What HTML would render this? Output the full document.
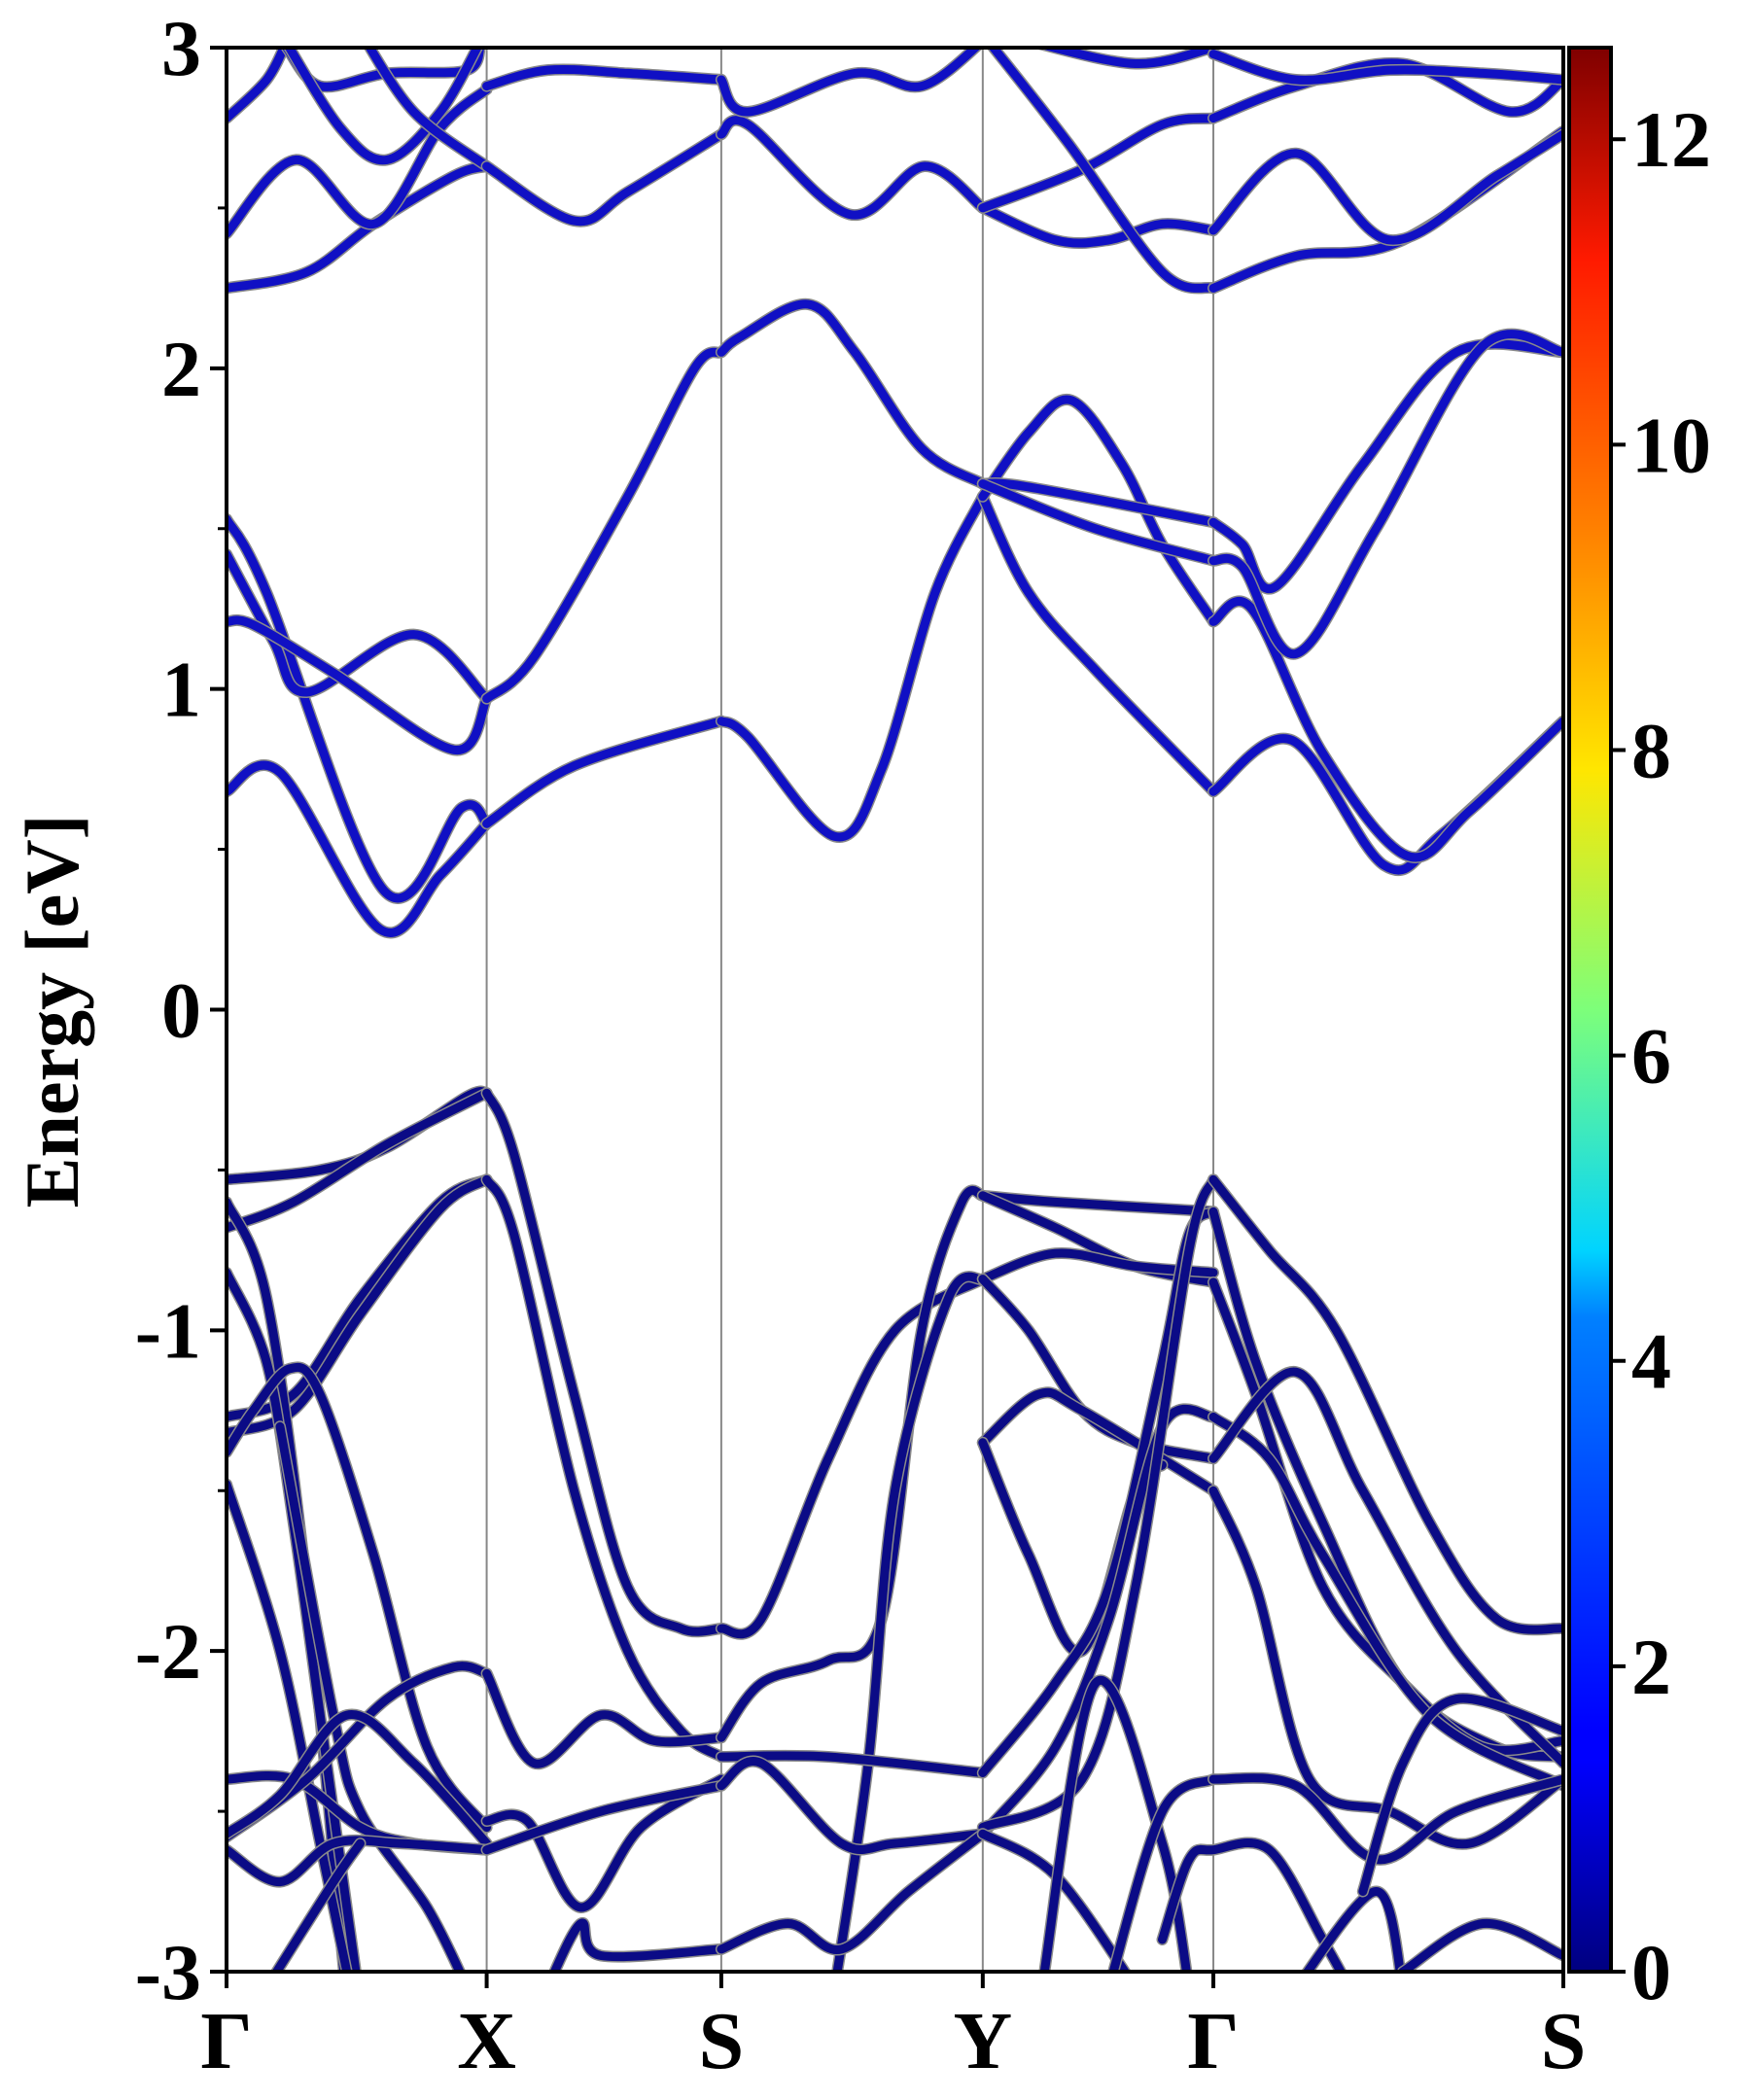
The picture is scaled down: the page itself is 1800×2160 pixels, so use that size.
<!DOCTYPE html>
<html><head><meta charset="utf-8"><style>
html,body{margin:0;padding:0;background:#fff;}
svg{display:block;}
text{font-family:"Liberation Serif","Times New Roman",serif;font-weight:bold;fill:#000;}
</style></head><body>
<svg id="chart" width="1800" height="2160" viewBox="0 0 1800 2160" xmlns="http://www.w3.org/2000/svg" font-family="Liberation Serif, Times New Roman, serif" font-weight="bold">
<defs>
<clipPath id="plotclip"><rect x="233" y="49" width="1375" height="1979"/></clipPath>
<linearGradient id="jet" x1="0" y1="1" x2="0" y2="0">
<stop offset="0" stop-color="#00007f"/><stop offset="0.11" stop-color="#0000ff"/><stop offset="0.125" stop-color="#0000ff"/>
<stop offset="0.34" stop-color="#0080ff"/><stop offset="0.375" stop-color="#00d4ff"/><stop offset="0.5" stop-color="#7dff7a"/>
<stop offset="0.625" stop-color="#ffe600"/><stop offset="0.75" stop-color="#ff8000"/><stop offset="0.89" stop-color="#ff1a00"/><stop offset="1" stop-color="#7f0000"/>
</linearGradient>
</defs>
<g id="grid"></g>
<g id="bands" clip-path="url(#plotclip)"></g>
<rect x="233" y="49" width="1375" height="1979" fill="none" stroke="#000" stroke-width="4"/>
<g id="yticks"></g>
<g id="xticks"></g>
<text font-family="Liberation Serif, serif" transform="translate(80,1040) rotate(-90)" text-anchor="middle" font-size="78">Energy [eV]</text>
<rect x="1614" y="49" width="43" height="1979" fill="url(#jet)" stroke="#000" stroke-width="4"/>
<g id="cticks"></g>
</svg>
<script>
const kTicks = [0, 0.1946, 0.3701, 0.5657, 0.7382, 1.0];
const kLabels = ["Γ", "X", "S", "Y", "Γ", "S"];
const yTickValues = [-3, -2, -1, 0, 1, 2, 3];
const cbarTicks = [0, 2, 4, 6, 8, 10, 12];
const cbarMax = 12.6;
const conductionBands = [
 [[0,0.68],[0.04,0.74],[0.115,0.25],[0.16,0.42],[0.1946,0.58]],
 [[0,1.53],[0.03,1.3],[0.118,0.37],[0.176,0.63],[0.1946,0.58]],
 [[0,1.42],[0.035,1.15],[0.06,0.99],[0.14,1.17],[0.1946,0.97]],
 [[0,1.21],[0.02,1.2],[0.08,1.05],[0.17,0.81],[0.1946,0.97]],
 [[0.1946,0.58],[0.26,0.76],[0.3701,0.9]],
 [[0.1946,0.97],[0.23,1.1],[0.3,1.6],[0.35,2.0],[0.3701,2.05]],
 [[0.3701,0.9],[0.39,0.85],[0.455,0.54],[0.49,0.75],[0.53,1.3],[0.5657,1.6]],
 [[0.3701,2.05],[0.385,2.1],[0.435,2.2],[0.47,2.05],[0.52,1.75],[0.5657,1.64]],
 [[0.5657,1.6],[0.6,1.3],[0.652,1.05],[0.7382,0.68]],
 [[0.5657,1.6],[0.6,1.8],[0.632,1.9],[0.67,1.7],[0.7,1.45],[0.7382,1.21]],
 [[0.5657,1.64],[0.6,1.63],[0.7382,1.52]],
 [[0.5657,1.64],[0.65,1.5],[0.7382,1.4]],
 [[0.7382,0.68],[0.797,0.84],[0.866,0.45],[0.91,0.55],[1,0.9]],
 [[0.7382,1.21],[0.767,1.25],[0.82,0.8],[0.883,0.48],[0.93,0.62],[1,0.9]],
 [[0.7382,1.52],[0.76,1.45],[0.785,1.32],[0.85,1.7],[0.92,2.05],[1,2.05]],
 [[0.7382,1.4],[0.76,1.38],[0.8,1.11],[0.86,1.5],[0.94,2.07],[1,2.05]],
 [[0,2.25],[0.06,2.3],[0.11,2.45],[0.17,2.6],[0.1946,2.63]],
 [[0,2.42],[0.052,2.65],[0.11,2.45],[0.16,2.75],[0.1946,2.87]],
 [[0,2.78],[0.03,2.9],[0.045,3.02]],
 [[0.045,3.0],[0.07,2.88],[0.12,2.92],[0.18,2.93],[0.19,3.02]],
 [[0.04,3.05],[0.085,2.75],[0.12,2.65],[0.16,2.8],[0.19,3.02]],
 [[0.1,3.05],[0.14,2.8],[0.1946,2.63]],
 [[0.1946,2.63],[0.26,2.46],[0.3,2.55],[0.3701,2.73]],
 [[0.1946,2.88],[0.24,2.93],[0.3,2.92],[0.3701,2.9]],
 [[0.3701,2.73],[0.39,2.76],[0.466,2.48],[0.522,2.63],[0.5657,2.5]],
 [[0.3701,2.9],[0.39,2.8],[0.47,2.92],[0.52,2.88],[0.5657,3.02]],
 [[0.5657,2.5],[0.62,2.4],[0.66,2.4],[0.7,2.45],[0.7382,2.43]],
 [[0.5657,2.5],[0.64,2.62],[0.7,2.76],[0.7382,2.78]],
 [[0.57,3.02],[0.63,2.7],[0.7,2.3],[0.7382,2.25]],
 [[0.6,3.02],[0.68,2.95],[0.7382,3.0]],
 [[0.7382,2.25],[0.8,2.35],[0.88,2.4],[1,2.74]],
 [[0.7382,2.43],[0.8,2.67],[0.87,2.4],[0.95,2.6],[1,2.73]],
 [[0.7382,2.78],[0.8,2.88],[0.88,2.95],[0.96,2.8],[1,2.9]],
 [[0.7382,2.98],[0.8,2.9],[0.87,2.93],[0.94,2.92],[1,2.9]]
];
const valenceBands = [
 [[0,-0.53],[0.07,-0.5],[0.12,-0.43],[0.18,-0.27],[0.1946,-0.26]],
 [[0,-0.68],[0.05,-0.6],[0.12,-0.42],[0.1946,-0.26]],
 [[0,-1.27],[0.05,-1.2],[0.1,-0.9],[0.16,-0.6],[0.1946,-0.53]],
 [[0,-1.32],[0.05,-1.25],[0.1,-0.95],[0.16,-0.62],[0.1946,-0.53]],
 [[0,-0.6],[0.03,-0.9],[0.06,-1.8],[0.09,-3.1]],
 [[0,-0.82],[0.03,-1.1],[0.05,-1.6],[0.07,-2.2],[0.1,-3.1]],
 [[0,-1.48],[0.04,-2.0],[0.07,-2.6],[0.095,-3.1]],
 [[0,-1.38],[0.02,-1.25],[0.047,-1.12],[0.07,-1.2],[0.11,-1.7],[0.15,-2.3],[0.1946,-2.55]],
 [[0.04,-1.3],[0.08,-2.2],[0.1,-2.5],[0.15,-2.8],[0.18,-3.05]],
 [[0,-2.4],[0.05,-2.4],[0.1,-2.55],[0.14,-2.6],[0.1946,-2.62]],
 [[0,-2.58],[0.06,-2.4],[0.12,-2.15],[0.17,-2.05],[0.1946,-2.07]],
 [[0,-2.57],[0.04,-2.45],[0.09,-2.2],[0.14,-2.35],[0.1946,-2.6]],
 [[0,-2.62],[0.04,-2.72],[0.08,-2.6],[0.13,-2.6],[0.1946,-2.62]],
 [[0.03,-3.05],[0.08,-2.72],[0.1,-2.6]],
 [[0.1946,-0.26],[0.215,-0.45],[0.26,-1.2],[0.3,-1.8],[0.34,-1.93],[0.3701,-1.93]],
 [[0.1946,-0.53],[0.215,-0.7],[0.26,-1.5],[0.3,-2.0],[0.34,-2.25],[0.3701,-2.33]],
 [[0.1946,-2.07],[0.23,-2.35],[0.28,-2.2],[0.32,-2.28],[0.3701,-2.27]],
 [[0.1946,-2.53],[0.225,-2.53],[0.265,-2.8],[0.31,-2.55],[0.3701,-2.4]],
 [[0.1946,-2.62],[0.28,-2.5],[0.3701,-2.42]],
 [[0.24,-3.05],[0.265,-2.85],[0.28,-2.95],[0.3701,-2.93]],
 [[0.3701,-1.93],[0.4,-1.9],[0.45,-1.4],[0.5,-1.0],[0.5657,-0.84]],
 [[0.3701,-2.27],[0.4,-2.1],[0.45,-2.03],[0.49,-1.9],[0.52,-1.0],[0.55,-0.6],[0.5657,-0.58]],
 [[0.455,-3.05],[0.48,-2.35],[0.5,-1.5],[0.54,-0.9],[0.5657,-0.84]],
 [[0.3701,-2.33],[0.45,-2.33],[0.5657,-2.38]],
 [[0.3701,-2.42],[0.4,-2.35],[0.46,-2.6],[0.5,-2.6],[0.5657,-2.57]],
 [[0.3701,-2.93],[0.42,-2.85],[0.46,-2.93],[0.51,-2.75],[0.5657,-2.57]],
 [[0.5657,-0.58],[0.62,-0.6],[0.7382,-0.63]],
 [[0.5657,-0.58],[0.62,-0.68],[0.68,-0.8],[0.7382,-0.85]],
 [[0.5657,-0.84],[0.62,-0.76],[0.68,-0.8],[0.7382,-0.82]],
 [[0.5657,-0.84],[0.6,-1.0],[0.64,-1.25],[0.68,-1.35],[0.7382,-1.4]],
 [[0.5657,-1.35],[0.607,-1.2],[0.64,-1.25],[0.7382,-1.5]],
 [[0.5657,-1.35],[0.6,-1.7],[0.64,-2.0],[0.68,-1.5],[0.7,-1.42]],
 [[0.5657,-2.38],[0.62,-2.1],[0.66,-1.8],[0.7,-1.1],[0.72,-0.7],[0.7382,-0.63]],
 [[0.5657,-2.57],[0.62,-2.3],[0.66,-1.9],[0.7,-1.3],[0.7382,-1.27]],
 [[0.5657,-2.55],[0.64,-2.4],[0.68,-1.8],[0.72,-0.75],[0.7382,-0.53]],
 [[0.5657,-2.57],[0.62,-2.7],[0.68,-3.05]],
 [[0.61,-3.05],[0.65,-2.1],[0.7,-2.6],[0.72,-3.05]],
 [[0.66,-3.05],[0.7,-2.5],[0.7382,-2.4]],
 [[0.7382,-0.53],[0.78,-0.75],[0.83,-1.0],[0.9,-1.6],[0.95,-1.9],[1,-1.93]],
 [[0.7382,-0.63],[0.77,-1.1],[0.82,-1.6],[0.88,-2.1],[0.95,-2.3],[1,-2.33]],
 [[0.7382,-0.85],[0.77,-1.2],[0.82,-1.8],[0.88,-2.1],[0.94,-2.3],[1,-2.28]],
 [[0.7382,-1.27],[0.78,-1.4],[0.82,-1.7],[0.9,-2.2],[1,-2.42]],
 [[0.7382,-1.4],[0.8,-1.13],[0.85,-1.5],[0.92,-2.0],[1,-2.35]],
 [[0.7382,-1.5],[0.77,-1.8],[0.81,-2.4],[0.87,-2.5],[0.93,-2.6],[1,-2.4]],
 [[0.7382,-2.4],[0.8,-2.42],[0.86,-2.65],[0.92,-2.5],[1,-2.4]],
 [[0.7,-2.9],[0.72,-2.65],[0.7382,-2.62],[0.78,-2.62],[0.82,-2.9],[0.84,-3.05]],
 [[0.8,-3.05],[0.86,-2.75],[0.88,-3.05]],
 [[0.88,-3.0],[0.94,-2.85],[1,-2.95]],
 [[0.85,-2.75],[0.88,-2.35],[0.92,-2.15],[1,-2.25]]
];

const X0=233, X1=1608, Y0=49, Y1=2028, EMIN=-3, EMAX=3;
function xs(k){return X0+(X1-X0)*k;}
function ys(e){return Y1-(Y1-Y0)*(e-EMIN)/(EMAX-EMIN);}
function cys(v){return Y1-(Y1-Y0)*v/cbarMax;}
const NS='http://www.w3.org/2000/svg';
function mk(tag,attrs,parent){const el=document.createElementNS(NS,tag);for(const a in attrs)el.setAttribute(a,attrs[a]);parent.appendChild(el);return el;}
function pathFor(pts){
  const p=pts.map(q=>[xs(q[0]),ys(q[1])]);
  let d='M'+p[0][0].toFixed(1)+','+p[0][1].toFixed(1);
  for(let i=0;i<p.length-1;i++){
    const p0=p[i-1]||p[i],p1=p[i],p2=p[i+1],p3=p[i+2]||p2;
    const c1=[p1[0]+(p2[0]-p0[0])/6,p1[1]+(p2[1]-p0[1])/6];
    const c2=[p2[0]-(p3[0]-p1[0])/6,p2[1]-(p3[1]-p1[1])/6];
    d+=' C'+c1[0].toFixed(1)+','+c1[1].toFixed(1)+' '+c2[0].toFixed(1)+','+c2[1].toFixed(1)+' '+p2[0].toFixed(1)+','+p2[1].toFixed(1);
  }
  return d;
}
const grid=document.getElementById('grid');
kTicks.forEach((k,i)=>{
  if(i===0||i===kTicks.length-1)return;
  const l=mk('line',{x1:xs(k),x2:xs(k),y1:Y0,y2:Y1,stroke:'#888',"stroke-width":2},grid);
  
  
});
const bands=document.getElementById('bands');
function drawBands(arr,color,name){
  arr.forEach(b=>{
    const d=pathFor(b);
    const o=mk('path',{d:d,fill:'none',stroke:'#8a8a8a',"stroke-width":12,"stroke-linecap":'round'},bands);
    
    
    const p=mk('path',{d:d,fill:'none',stroke:color,"stroke-width":9,"stroke-linecap":'round'},bands);
    
    
  });
}
drawBands(valenceBands,'#0b0b86','valence-band');
drawBands(conductionBands,'#1010c4','conduction-band');
const yt=document.getElementById('yticks');
for(let e=EMIN;e<=EMAX+1e-9;e+=0.5){
  const major=Math.abs(e-Math.round(e))<1e-9;
  const t=mk('line',{x1:X0-(major?17:9),x2:X0,y1:ys(e),y2:ys(e),stroke:'#000',"stroke-width":major?4:3},yt);
  
  
}
yTickValues.forEach(v=>{
  const t=mk('text',{x:207,y:ys(v)+28,"text-anchor":'end',"font-size":82,"font-family":'Liberation Serif, serif'},yt);
  t.textContent=String(v);
  
  
});
const xt=document.getElementById('xticks');
kTicks.forEach((k,i)=>{
  const t=mk('line',{x1:xs(k),x2:xs(k),y1:Y1,y2:Y1+17,stroke:'#000',"stroke-width":4},xt);
  
  
  const lb=mk('text',{x:xs(k),y:2127,"text-anchor":'middle',"font-size":84,"font-family":'Liberation Serif, serif'},xt);
  lb.textContent=kLabels[i];
  
  
});
const ct=document.getElementById('cticks');
cbarTicks.forEach(v=>{
  const t=mk('line',{x1:1657,x2:1672,y1:cys(v),y2:cys(v),stroke:'#000',"stroke-width":4},ct);
  
  
  const lb=mk('text',{x:1678,y:cys(v)+28,"font-size":82,"font-family":'Liberation Serif, serif'},ct);
  lb.textContent=String(v);
  
  
});
</script>
</body></html>
